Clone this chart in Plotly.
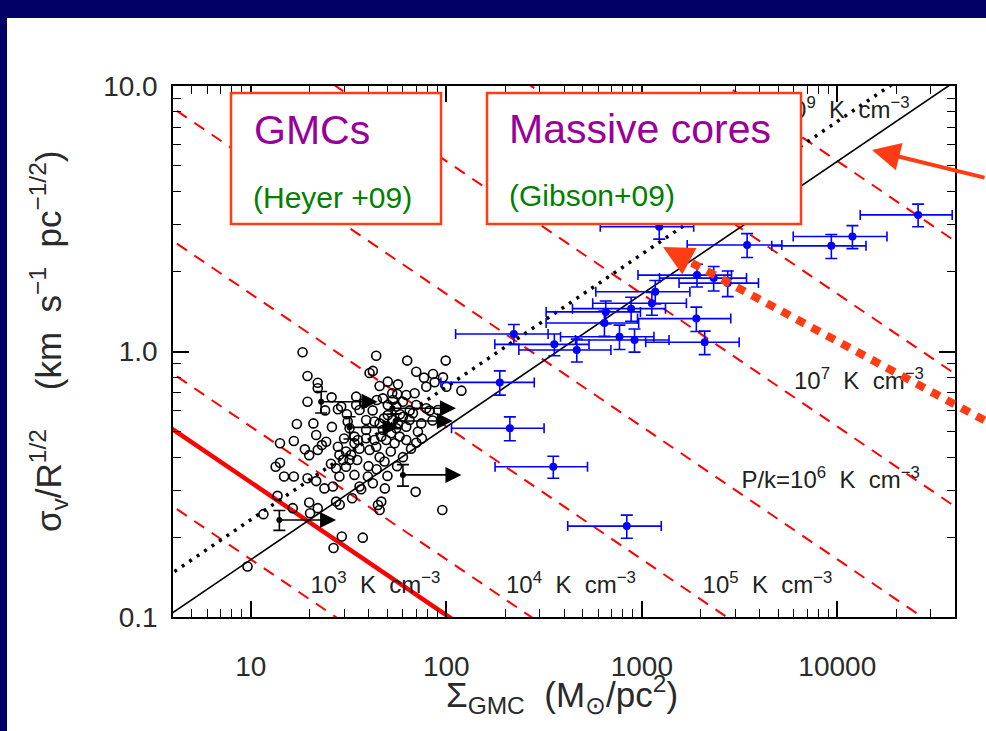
import math
import plotly.graph_objects as go

# ---------------- data ----------------
# Heyer+09 GMCs (open circles): surface density (Msun/pc^2), sigma_v/R^1/2
gmc_sigma = [18.4, 43.8, 63.1, 99.3, 119.5, 19.5, 22.0, 22.0, 19.5, 17.2, 20.9, 21.6, 14.1, 16.6,
             18.9, 19.9, 23.1, 13.4, 14.8, 14.1, 16.6, 19.5, 21.6, 23.8, 13.7, 16.4, 19.9, 11.6,
             26.5, 29.2, 37.4, 9.62, 44.7, 46.5, 48.5, 69.7, 95.4, 36.7, 33.0, 27.3, 45.6, 26.3,
             28.5, 22.0, 20.1, 24.3, 22.0,
             40.5, 42.1, 45.6, 50.2, 56.6, 70.2, 76.9, 85.5, 96.2, 68.9, 79.0, 87.2, 100.1, 56.1,
             52.9, 25.9, 27.9, 29.0, 34.6, 34.6, 36.0, 38.9, 44.1, 47.4, 50.2, 53.3, 55.5, 60.0,
             62.4, 70.2, 79.0, 82.2, 90.7, 50.2, 53.3, 56.6, 60.0, 55.5, 52.3, 57.7, 62.4, 49.3,
             54.4, 62.4, 47.4, 45.6, 64.9, 67.5, 71.6, 70.2, 74.5, 27.9, 30.7, 32.6, 33.9, 35.3,
             38.9, 42.9, 43.8, 46.5, 28.4, 29.6, 32.0, 30.7, 27.3, 25.7, 33.9, 39.7, 36.0, 42.1,
             28.4, 32.0, 31.3, 33.9, 38.9, 42.9, 40.5, 45.6, 48.3,
             58.0, 65.0, 48.0, 42.0, 38.0, 31.0, 26.0, 24.0, 36.0, 40.0, 44.0, 52.0, 60.0, 66.0,
             75.0, 85.0, 30.0, 35.0, 50.0, 56.0]
gmc_v = [0.993, 0.964, 0.924, 0.924, 0.712, 0.809, 0.763, 0.727, 0.647, 0.533, 0.536, 0.485, 0.451,
         0.460, 0.428, 0.407, 0.444, 0.368, 0.338, 0.381, 0.338, 0.333, 0.325, 0.305, 0.286, 0.257,
         0.270, 0.244, 0.182, 0.201, 0.199, 0.155, 0.264, 0.272, 0.305, 0.296, 0.253, 0.303, 0.280,
         0.272, 0.253, 0.310, 0.265, 0.257, 0.246, 0.457, 0.426,
         0.830, 0.845, 0.741, 0.770, 0.752, 0.839, 0.797, 0.823, 0.799, 0.696, 0.737, 0.766, 0.737,
         0.692, 0.696, 0.672, 0.606, 0.620, 0.676, 0.629, 0.602, 0.552, 0.657, 0.666, 0.629, 0.657,
         0.620, 0.647, 0.686, 0.629, 0.611, 0.599, 0.602, 0.576, 0.552, 0.536, 0.568, 0.514, 0.492,
         0.478, 0.521, 0.464, 0.451, 0.464, 0.506, 0.536, 0.552, 0.585, 0.499, 0.453, 0.536, 0.438,
         0.420, 0.408, 0.451, 0.464, 0.471, 0.464, 0.438, 0.478, 0.408, 0.390, 0.390, 0.368, 0.363,
         0.378, 0.343, 0.338, 0.310, 0.319, 0.338, 0.514, 0.545, 0.478, 0.506, 0.545, 0.426, 0.400,
         0.385,
         0.580, 0.600, 0.560, 0.600, 0.640, 0.580, 0.520, 0.600, 0.430, 0.370, 0.360, 0.420, 0.400,
         0.430, 0.470, 0.550, 0.470, 0.390, 0.340, 0.370]

# GMCs with lower limits on surface density (filled dots + arrows)
lim_sigma = [22.9, 32.0, 53.0, 55.0, 60.0, 14.0]
lim_v = [0.647, 0.518, 0.611, 0.547, 0.343, 0.232]
lim_verr = [0.06, 0.05, 0.03, 0.035, 0.032, 0.02]
lim_tip = [44.5, 57.0, 112.0, 108.0, 119.5, 27.3]

# Gibson+09 massive cores (blue, with error bars)
core_sigma = [25900, 11950, 9322, 3457, 1228, 1916, 2332, 2751, 1172, 1126, 882, 654, 644, 1901,
              769, 918, 2097, 465, 357, 221.6, 187.8, 211.4, 352.6, 838]
core_v = [3.27, 2.71, 2.50, 2.52, 2.95, 1.94, 1.89, 1.81, 1.68, 1.52, 1.45, 1.41, 1.28, 1.33,
          1.137, 1.105, 1.083, 1.013, 1.064, 1.164, 0.765, 0.514, 0.368, 0.220]
core_sigma_err = [12800, 6000, 4700, 1750, 615, 960, 1100, 1200, 590, 565, 440, 330, 320, 950,
                  385, 460, 1050, 230, 180, 110, 94, 105, 175, 420]
core_v_err = [0.32, 0.27, 0.26, 0.26, 0.30, 0.19, 0.20, 0.20, 0.17, 0.15, 0.15, 0.14, 0.14, 0.14,
              0.12, 0.11, 0.11, 0.10, 0.10, 0.10, 0.08, 0.053, 0.035, 0.022]

# external pressure levels P/k (K cm^-3) for the dashed lines, and the thick one
pressure_levels = [1e3, 1e4, 1e5, 1e6, 1e7, 1e8, 1e9]
pressure_thick = 3.8e3
line_sigma = [1.0, 1.0e5]

# x tick labels / y tick labels
x_tickvals = [10, 100, 1000, 10000]
x_ticktext = ["10", "100", "1000", "10000"]
y_tickvals = [0.1, 1.0, 10.0]
y_ticktext = ["0.1", "1.0", "10.0"]

# pressure labels
NB = "\u00a0"
plabel_text = ["10<sup>3</sup>" + NB * 2 + "K" + NB * 2 + "cm<sup>\u22123</sup>",
               "10<sup>4</sup>" + NB * 2 + "K" + NB * 2 + "cm<sup>\u22123</sup>",
               "10<sup>5</sup>" + NB * 2 + "K" + NB * 2 + "cm<sup>\u22123</sup>",
               "P/k=10<sup>6</sup>" + NB * 2 + "K" + NB * 2 + "cm<sup>\u22123</sup>",
               "10<sup>7</sup>" + NB * 2 + "K" + NB * 2 + "cm<sup>\u22123</sup>",
               "10<sup>9</sup>" + NB * 2 + "K" + NB * 2 + "cm<sup>\u22123</sup>"]
plabel_sigma = [43.4, 434, 4395, 9250, 12900, 10900]
plabel_v = [0.130, 0.130, 0.130, 0.3225, 0.761, 7.98]

# physical constants (pc, Msun, km/s units)
G = 4.302e-3
KB_UNIT = 2.0394e-4   # k_B * (1 K cm^-3) in Msun pc^-3 (km/s)^2

# ---------------- figure ----------------
fig = go.Figure()

def pline(p):
    return [math.sqrt(4.0 / 3.0 * KB_UNIT * p / s) for s in line_sigma]

for p in pressure_levels:
    fig.add_trace(go.Scatter(x=line_sigma, y=pline(p), mode="lines",
                             line=dict(color="#ff0000", width=2, dash="12px,9px"),
                             hoverinfo="skip", showlegend=False))
fig.add_trace(go.Scatter(x=line_sigma, y=pline(pressure_thick), mode="lines",
                         line=dict(color="#ff0000", width=4.5), showlegend=False))

# virial line and 2x virial (dotted)
fig.add_trace(go.Scatter(x=line_sigma, y=[math.sqrt(math.pi * G * s / 5.0) for s in line_sigma],
                         mode="lines", line=dict(color="black", width=1.6), showlegend=False))
fig.add_trace(go.Scatter(x=line_sigma, y=[math.sqrt(2 * math.pi * G * s / 5.0) for s in line_sigma],
                         mode="lines", line=dict(color="black", width=3.5, dash="3px,6px"),
                         showlegend=False))

# pressure labels (as a text trace so the boxes can cover them)
fig.add_trace(go.Scatter(x=plabel_sigma, y=plabel_v, mode="text", text=plabel_text,
                         textposition="middle center", cliponaxis=False,
                         textfont=dict(family="Liberation Sans", size=24, color="#222222"),
                         showlegend=False))

# GMCs
fig.add_trace(go.Scatter(x=gmc_sigma, y=gmc_v, mode="markers",
                         marker=dict(symbol="circle-open", size=9, color="black",
                                     line=dict(width=1.6, color="black")),
                         showlegend=False))

# lower-limit GMCs
fig.add_trace(go.Scatter(x=lim_sigma, y=lim_v, mode="markers",
                         marker=dict(symbol="circle", size=6, color="black"),
                         error_y=dict(type="data", array=lim_verr, color="black", thickness=1.6, width=6),
                         showlegend=False))
for s, v, t in zip(lim_sigma, lim_v, lim_tip):
    fig.add_annotation(x=math.log10(t), y=math.log10(v), ax=math.log10(s), ay=math.log10(v),
                       xref="x", yref="y", axref="x", ayref="y", text="", showarrow=True,
                       arrowhead=2, arrowsize=2, arrowwidth=1.6, arrowcolor="black")

# massive cores
fig.add_trace(go.Scatter(x=core_sigma, y=core_v, mode="markers",
                         marker=dict(symbol="circle", size=8, color="#0000ff"),
                         error_x=dict(type="data", array=core_sigma_err, color="#0000ff", thickness=1.6, width=5),
                         error_y=dict(type="data", array=core_v_err, color="#0000ff", thickness=1.6, width=6),
                         showlegend=False))

# ---------------- layout ----------------
L, R, T, B = 173, 31, 86, 114
W, H = 986, 731
PW, PH = W - L - R, H - T - B

def px(xp):
    return (xp - L) / PW

def py(yp):
    return (H - B - yp) / PH

ORANGE = "#ff3c14"
TXT = "#2a2a2a"

shapes = [
    dict(type="rect", xref="paper", yref="paper", x0=px(7), x1=px(1000), y0=py(745), y1=py(18),
         fillcolor="white", line=dict(width=0), layer="below"),
    dict(type="rect", xref="paper", yref="paper", x0=px(231), x1=px(441), y0=py(224), y1=py(93),
         fillcolor="white", line=dict(color=ORANGE, width=2.5), layer="above"),
    dict(type="rect", xref="paper", yref="paper", x0=px(487), x1=px(801), y0=py(224), y1=py(93),
         fillcolor="white", line=dict(color=ORANGE, width=2.5), layer="above"),
    dict(type="line", xref="paper", yref="paper", x0=px(692), y0=py(263), x1=px(995), y1=py(426),
         line=dict(color=ORANGE, width=8, dash="9px,8px"), layer="above"),
]

annotations = list(fig.layout.annotations) + [
    dict(xref="paper", yref="paper", x=px(252), y=py(130), text="GMCs", showarrow=False,
         xanchor="left", yanchor="middle", font=dict(family="Liberation Sans", size=41, color="#990099")),
    dict(xref="paper", yref="paper", x=px(251), y=py(197), text="(Heyer +09)", showarrow=False,
         xanchor="left", yanchor="middle", font=dict(family="Liberation Sans", size=30, color="#008000")),
    dict(xref="paper", yref="paper", x=px(507), y=py(129), text="Massive cores", showarrow=False,
         xanchor="left", yanchor="middle", font=dict(family="Liberation Sans", size=41, color="#990099")),
    dict(xref="paper", yref="paper", x=px(507), y=py(195), text="(Gibson+09)", showarrow=False,
         xanchor="left", yanchor="middle", font=dict(family="Liberation Sans", size=30, color="#008000")),
    # solid arrow
    dict(xref="paper", yref="paper", x=px(872), y=py(150), ax=120, ay=28, text="", showarrow=True,
         arrowhead=2, arrowsize=1.4, arrowwidth=4, arrowcolor=ORANGE),
    # head of dotted arrow
    dict(xref="paper", yref="paper", x=px(663), y=py(247), ax=26, ay=14, text="", showarrow=True,
         arrowhead=2, arrowsize=3, arrowwidth=2, arrowcolor=ORANGE),
    # axis titles
    dict(xref="paper", yref="paper", x=px(562), y=py(694), showarrow=False,
         text="\u03a3<sub>GMC</sub>" + NB * 2 + "(M<sub>\u2299</sub>/pc<sup>2</sup>)",
         xanchor="center", yanchor="middle",
         font=dict(family="Liberation Sans", size=35, color=TXT)),
    dict(xref="paper", yref="paper", x=px(48), y=py(342), showarrow=False, textangle=-90,
         text="\u03c3<sub>v</sub>/R<sup>1/2</sup>" + NB * 4 + "(km" + NB * 2 + "s<sup>\u22121</sup>"
              + NB * 2 + "pc<sup>\u22121/2</sup>)",
         xanchor="center", yanchor="middle",
         font=dict(family="Liberation Sans", size=35, color=TXT)),
]

minor_x = [m * 10 ** k for k in range(0, 5) for m in range(2, 10)]
minor_y = [m * 10 ** k for k in range(-2, 1) for m in range(2, 10)]

axis_common = dict(type="log", showline=True, linecolor="black", linewidth=1.5, mirror="allticks",
                   ticks="inside", ticklen=16, tickwidth=1.5, tickcolor="black",
                   showgrid=False, zeroline=False,
                   tickfont=dict(family="Liberation Sans", size=28, color=TXT))

fig.update_layout(
    width=W, height=H, margin=dict(l=L, r=R, t=T, b=B, pad=0),
    paper_bgcolor="#000066", plot_bgcolor="white",
    showlegend=False, shapes=shapes, annotations=annotations,
    xaxis=dict(**axis_common, range=[math.log10(4), math.log10(40000)],
               tickmode="array", tickvals=x_tickvals, ticktext=x_ticktext, ticklabelstandoff=24,
               minor=dict(ticks="inside", ticklen=8, tickwidth=1.2, tickcolor="black",
                          tickmode="array", tickvals=minor_x, showgrid=False)),
    yaxis=dict(**axis_common, range=[-1, 1],
               tickmode="array", tickvals=y_tickvals, ticktext=y_ticktext, ticklabelstandoff=8,
               minor=dict(ticks="inside", ticklen=8, tickwidth=1.2, tickcolor="black",
                          tickmode="array", tickvals=minor_y, showgrid=False)),
)

fig.write_html("out.html")
